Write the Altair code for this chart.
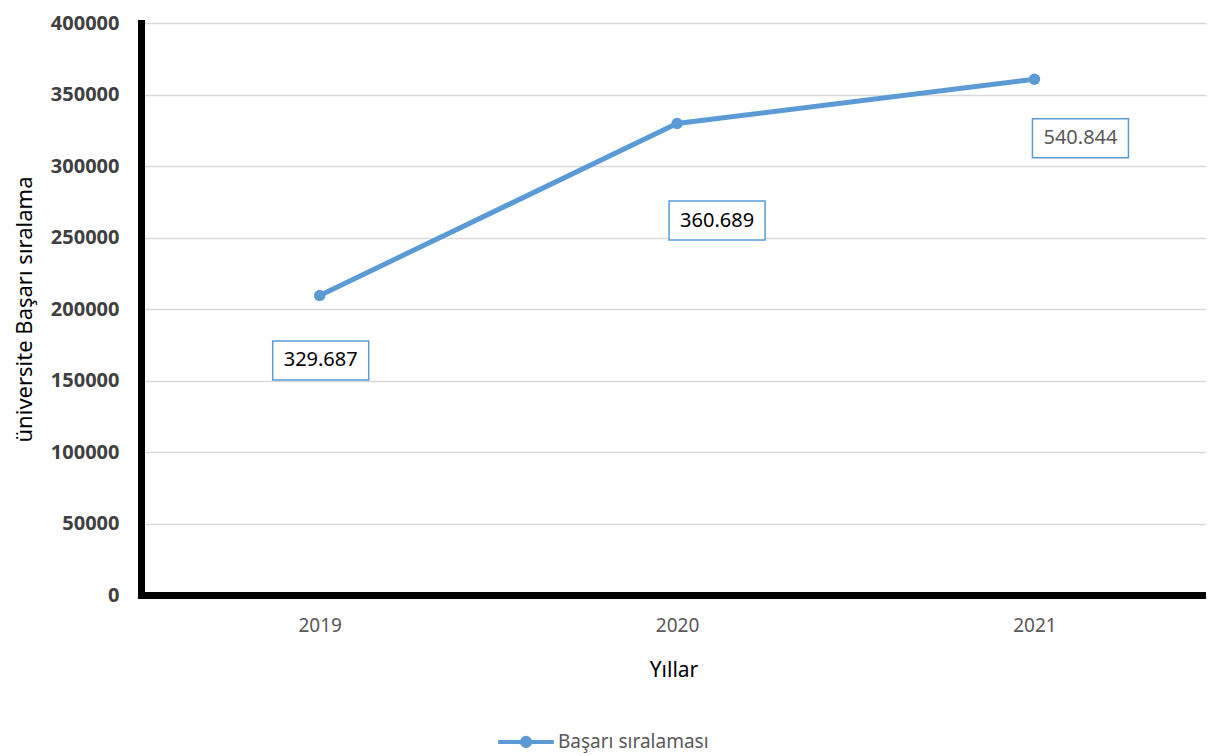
import altair as alt
import pandas as pd

years = [2019, 2020, 2021]
values = [209500, 329687, 360689]
labels = ["329.687", "360.689", "540.844"]
label_colors = ["#000000", "#000000", "#595959"]
series_name = "Başarı sıralaması"
y_ticks = [0, 50000, 100000, 150000, 200000, 250000, 300000, 350000, 400000]

# label box pixel offsets from each point (styling)
label_offsets = [(1, 65), (40, 97), (46, 59)]

df = pd.DataFrame({
    "year": years,
    "value": values,
    "label": labels,
    "series": [series_name] * len(years),
})

LINE_COLOR = "#5b9bd5"
FONT = "Noto Sans"

x_enc = alt.X(
    "year:Q",
    scale=alt.Scale(domain=[2018.5, 2021.48], nice=False, zero=False),
    axis=alt.Axis(
        values=years, format="d", title="Yıllar", grid=False, ticks=False,
        domainColor="black", domainWidth=7, domainCap="square",
        labelFontSize=19, labelColor="#595959", labelPadding=21, labelFont=FONT,
        titleFontSize=21, titleFontWeight="normal", titleColor="black",
        titlePadding=24, titleFont=FONT,
    ),
)
y_enc = alt.Y(
    "value:Q",
    scale=alt.Scale(domain=[0, 400000], nice=False),
    axis=alt.Axis(
        values=y_ticks, format="d", title="üniversite Başarı sıralama",
        grid=True, gridColor="#d9d9d9", gridWidth=1.5, ticks=False,
        domainColor="black", domainWidth=7, domainCap="square",
        labelFontSize=20, labelFontWeight="bold", labelColor="#404040",
        labelPadding=22, labelFont=FONT,
        titleFontSize=22, titleFontWeight="normal", titleColor="black",
        titlePadding=14, titleFont=FONT,
    ),
)

base = alt.Chart(df)

line = base.mark_line(strokeWidth=5).encode(
    x=x_enc,
    y=y_enc,
    color=alt.Color(
        "series:N",
        scale=alt.Scale(range=[LINE_COLOR]),
        title=None,
        legend=alt.Legend(
            orient="none", legendX=355, legendY=689, direction="horizontal",
            padding=0,
            symbolType="M-1,0L1,0M-0.15,0A0.15,0.15,0,1,0,0.15,0A0.15,0.15,0,1,0,-0.15,0Z",
            symbolSize=3100, symbolStrokeWidth=4, symbolStrokeColor=LINE_COLOR,
            symbolFillColor=LINE_COLOR, labelFontSize=19, labelColor="#595959",
            labelFont=FONT, labelOffset=2,
        ),
    ),
)

points = base.mark_point(filled=True, size=130, opacity=1).encode(
    x=x_enc, y=y_enc, color=alt.value(LINE_COLOR)
)

layers = [line, points]
for yr, (dx, dy), col in zip(years, label_offsets, label_colors):
    box = base.transform_filter(alt.datum.year == yr).mark_rect(
        fill="white", stroke=LINE_COLOR, strokeWidth=1.5,
        xOffset=dx - 48, x2Offset=dx + 48, yOffset=dy - 19.5, y2Offset=dy + 19.5,
    ).encode(x=x_enc, x2="year", y=y_enc, y2="value")
    txt = base.transform_filter(alt.datum.year == yr).mark_text(
        dx=dx, dy=dy, fontSize=20, color=col, font=FONT, baseline="middle", align="center",
    ).encode(x=x_enc, y=y_enc, text="label:N")
    layers += [box, txt]

chart = alt.layer(*layers).properties(
    width=1065,
    height=572,
    padding={"left": 133, "top": 15, "right": 0, "bottom": 158},
    autosize=alt.AutoSizeParams(type="none"),
    background="white",
).configure_view(stroke=None)

chart.save("out.html", embed_options={"renderer": "svg", "actions": False})
